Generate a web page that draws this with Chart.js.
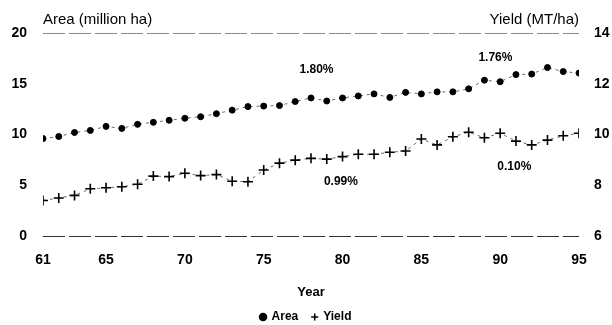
<!DOCTYPE html>
<html>
<head>
<meta charset="utf-8">
<script src="https://cdn.jsdelivr.net/npm/chart.js@4/dist/chart.umd.min.js"></script>
<style>
  html, body { margin: 0; padding: 0; background: #fff; }
  canvas { display: block; }
</style>
</head>
<body>
<canvas id="grafico" width="612" height="325"></canvas>
<script>
// years 1961-1995, area in million ha (left axis), yield in MT/ha (right axis)
var anos = [61, 62, 63, 64, 65, 66, 67, 68, 69, 70, 71, 72, 73, 74, 75, 76, 77, 78,
            79, 80, 81, 82, 83, 84, 85, 86, 87, 88, 89, 90, 91, 92, 93, 94, 95];
var area = [9.6, 9.8, 10.2, 10.4, 10.8, 10.6, 11.0, 11.2, 11.4, 11.6, 11.75, 12.05,
            12.4, 12.75, 12.8, 12.85, 13.25, 13.6, 13.3, 13.6, 13.8, 14.0, 13.65,
            14.15, 14.0, 14.2, 14.2, 14.5, 15.35, 15.2, 15.9, 15.95, 16.6, 16.2, 16.05];
var rendimento = [7.4, 7.5, 7.6, 7.86, 7.9, 7.94, 8.04, 8.36, 8.34, 8.47, 8.38, 8.42,
                  8.16, 8.14, 8.6, 8.87, 8.99, 9.06, 9.03, 9.13, 9.22, 9.22, 9.3,
                  9.35, 9.82, 9.59, 9.91, 10.09, 9.87, 10.05, 9.74, 9.59, 9.78, 9.95, 10.05];

var ticksAno = [61, 65, 70, 75, 80, 85, 90, 95];
var ticksArea = [0, 5, 10, 15, 20];
var ticksRend = [6, 8, 10, 12, 14];

// growth rates written over the curves
var taxas = ['1.80%', '1.76%', '0.99%', '0.10%'];
var taxasAno = [78.35, 89.7, 79.9, 90.9];
var taxasEixo = ['yA', 'yA', 'yR', 'yR'];
var taxasValor = [16.35, 17.6, 8.13, 8.72];

var fonte = "'Liberation Sans', Arial, sans-serif";

function pontos(valores) {
  return anos.map(function(a, i) { return { x: a, y: valores[i] }; });
}

function fixaTicks(lista) {
  return function(scale) {
    scale.ticks = lista.map(function(v) { return { value: v }; });
  };
}

var textos = {
  id: 'textos',
  afterDraw: function(chart) {
    var ctx = chart.ctx;
    var ca = chart.chartArea;
    ctx.save();
    ctx.fillStyle = '#000';
    ctx.textBaseline = 'middle';
    ctx.font = '15px ' + fonte;
    ctx.textAlign = 'left';
    ctx.fillText('Area (million ha)', ca.left, 20);
    ctx.textAlign = 'right';
    ctx.fillText('Yield (MT/ha)', ca.right, 20);

    ctx.font = 'bold 12px ' + fonte;
    ctx.textAlign = 'center';
    for (var i = 0; i < taxas.length; i++) {
      var x = chart.scales.x.getPixelForValue(taxasAno[i]);
      var y = chart.scales[taxasEixo[i]].getPixelForValue(taxasValor[i]);
      ctx.fillText(taxas[i], x, y);
    }
    ctx.restore();
  }
};

function desenhaGrafico() {
  var ctx = document.getElementById('grafico').getContext('2d');
  new Chart(ctx, {
    type: 'line',
    data: {
      datasets: [{
        label: 'Area',
        data: pontos(area),
        yAxisID: 'yA',
        borderColor: '#444',
        borderWidth: 0.8,
        borderDash: [3, 4],
        pointStyle: 'circle',
        pointRadius: 3,
        pointBackgroundColor: '#000',
        pointBorderColor: '#000',
        pointBorderWidth: 1
      }, {
        label: 'Yield',
        data: pontos(rendimento),
        yAxisID: 'yR',
        borderColor: '#444',
        borderWidth: 0.8,
        borderDash: [3, 4],
        pointStyle: 'cross',
        pointRadius: 5,
        pointBorderColor: '#000',
        pointBorderWidth: 1.6
      }]
    },
    options: {
      responsive: false,
      animation: false,
      layout: { padding: { top: 33, left: 0, right: 0, bottom: -8 } },
      plugins: {
        tooltip: { enabled: false },
        legend: {
          position: 'bottom',
          labels: {
            usePointStyle: true,
            boxWidth: 5,
            boxHeight: 5,
            padding: 14,
            color: '#000',
            font: { family: fonte, size: 12, weight: 'bold' },
            generateLabels: function(chart) {
              var itens = Chart.defaults.plugins.legend.labels.generateLabels(chart);
              itens.forEach(function(it) {
                it.lineWidth = 1.5;
                it.strokeStyle = '#000';
                it.fillStyle = '#000';
                it.lineDash = [];
              });
              return itens;
            }
          }
        }
      },
      scales: {
        x: {
          type: 'linear',
          min: 61,
          max: 95,
          afterBuildTicks: fixaTicks(ticksAno),
          afterFit: function(scale) { scale.height = 61; },
          grid: { display: false },
          border: { display: false },
          ticks: {
            padding: 8,
            color: '#000',
            font: { family: fonte, size: 14, weight: 'bold' }
          },
          title: {
            display: true,
            text: 'Year',
            color: '#000',
            padding: { top: 0, bottom: -3 },
            font: { family: fonte, size: 13, weight: 'bold' }
          }
        },
        yA: {
          position: 'left',
          min: 0,
          max: 20,
          afterBuildTicks: fixaTicks(ticksArea),
          afterFit: function(scale) { scale.width = 43; },
          border: { display: false, dash: [22, 4] },
          grid: {
            drawTicks: false,
            lineWidth: 1,
            // only the 0 and 20 lines frame the plot; the top one is fainter
            color: function(c) {
              if (!c.tick) return 'rgba(0,0,0,0)';
              if (c.tick.value === 0) return '#333';
              if (c.tick.value === 20) return '#8a8a8a';
              return 'rgba(0,0,0,0)';
            }
          },
          ticks: {
            padding: 16,
            color: '#000',
            font: { family: fonte, size: 14, weight: 'bold' }
          }
        },
        yR: {
          position: 'right',
          min: 6,
          max: 14,
          afterBuildTicks: fixaTicks(ticksRend),
          afterFit: function(scale) { scale.width = 33; },
          border: { display: false },
          grid: { display: false, drawTicks: false },
          ticks: {
            padding: 15,
            color: '#000',
            font: { family: fonte, size: 14, weight: 'bold' }
          }
        }
      }
    },
    plugins: [textos]
  });
}

desenhaGrafico();
</script>
</body>
</html>
